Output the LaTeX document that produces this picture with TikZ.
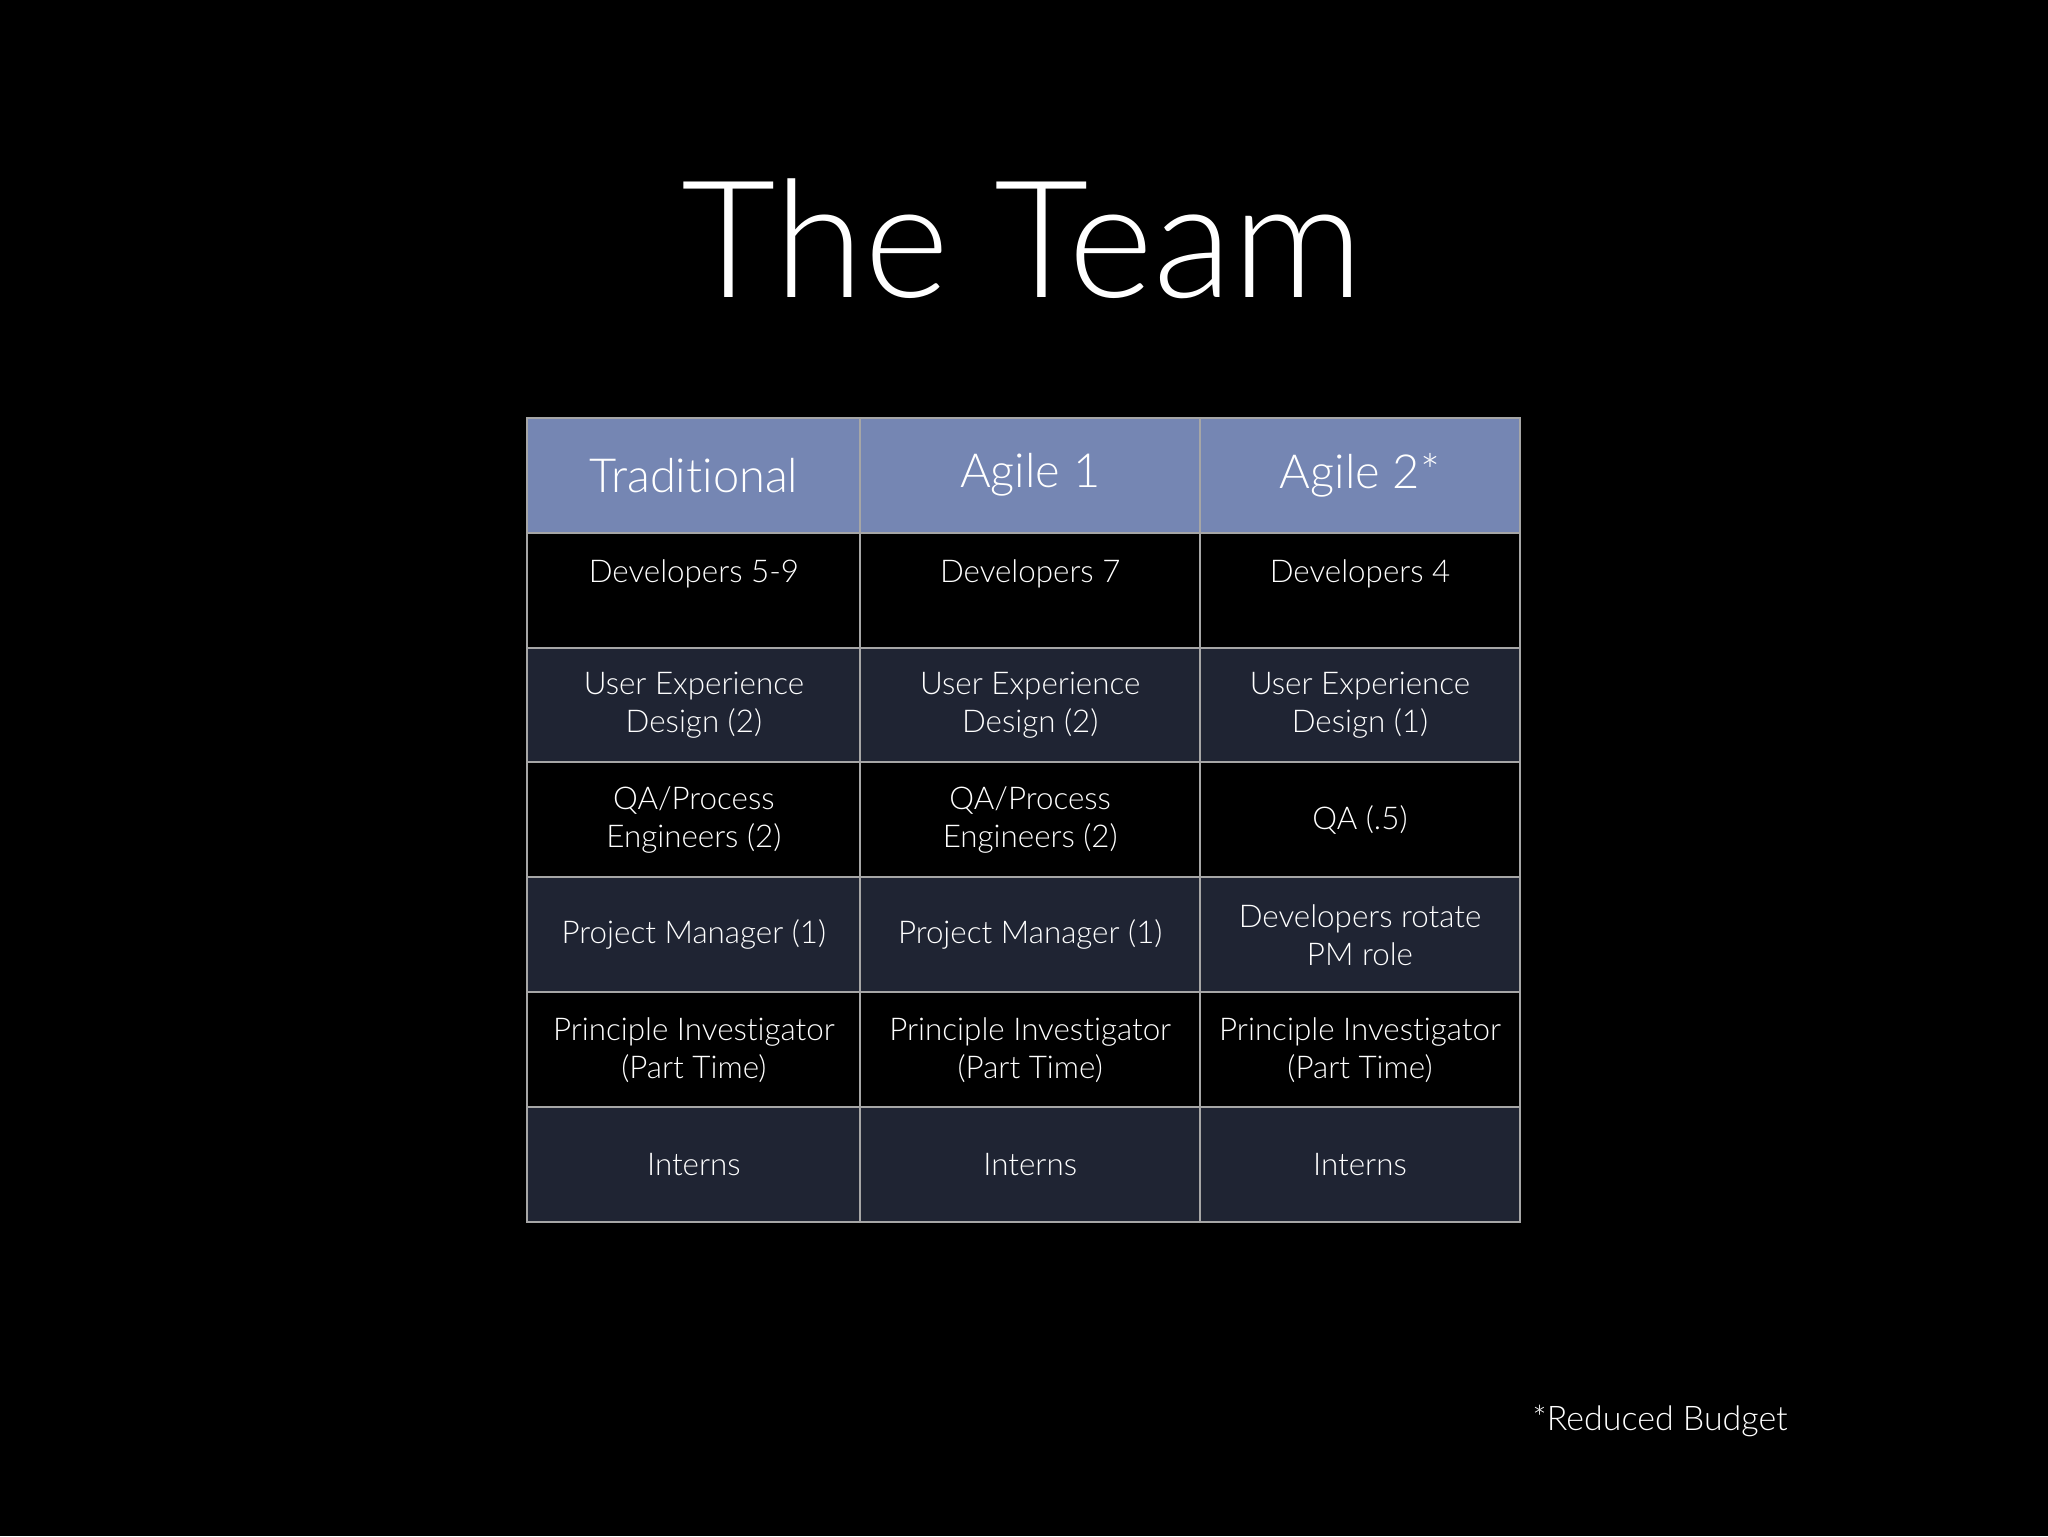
\documentclass[tikz,border=0pt]{standalone}
\usepackage{fontspec}
\setmainfont{Lato}[UprightFont=* Light,Ligatures={NoCommon,NoRare}]
\begin{document}
\begin{tikzpicture}[x=1pt,y=-1pt,
  cell/.style={draw=gray!70,line width=1.5pt,minimum width=#1,minimum height=88pt,anchor=north west,inner sep=0pt,text=white,align=center,font=\fontsize{24}{29}\selectfont},
  hdr/.style={fill=hdrblue,font=\fontsize{36}{40}\selectfont},
  drk/.style={fill=rowdark},blk/.style={fill=black}]
\definecolor{hdrblue}{HTML}{7586B3}
\definecolor{rowdark}{HTML}{1F2433}
\fill[black] (0,0) rectangle (1568,1176);
\useasboundingbox (0,0) rectangle (1568,1176);
\node[text=white,font=\fontsize{125}{130}\selectfont] (title) at (783,183) {The Team};
\foreach \r/\st/\a/\b/\c [count=\i] in {
 0/hdr/{Traditional}/{Agile 1}/{Agile 2*},
 1/blk/{Developers 5-9\\[0pt]\mbox{}}/{Developers 7\\[0pt]\mbox{}}/{Developers 4\\[0pt]\mbox{}},
 2/drk/{User Experience\\Design (2)}/{User Experience\\Design (2)}/{User Experience\\Design (1)},
 3/blk/{QA/Process\\Engineers (2)}/{QA/Process\\Engineers (2)}/{QA (.5)},
 4/drk/{Project Manager (1)}/{Project Manager (1)}/{Developers rotate\\PM role},
 5/blk/{Principle Investigator\\(Part Time)}/{Principle Investigator\\(Part Time)}/{Principle Investigator\\(Part Time)},
 6/drk/{Interns}/{Interns}/{Interns}}{
  \node[cell=255pt,\st] (a\i) at (403,{319+88*\r}) {\a};
  \node[cell=260pt,\st] (b\i) at (658,{319+88*\r}) {\b};
  \node[cell=245pt,\st] (c\i) at (918,{319+88*\r}) {\c};
}
\node[text=white,font=\fontsize{26}{30}\selectfont] (note) at (1271,1088) {*Reduced Budget};
\end{tikzpicture}
\end{document}
